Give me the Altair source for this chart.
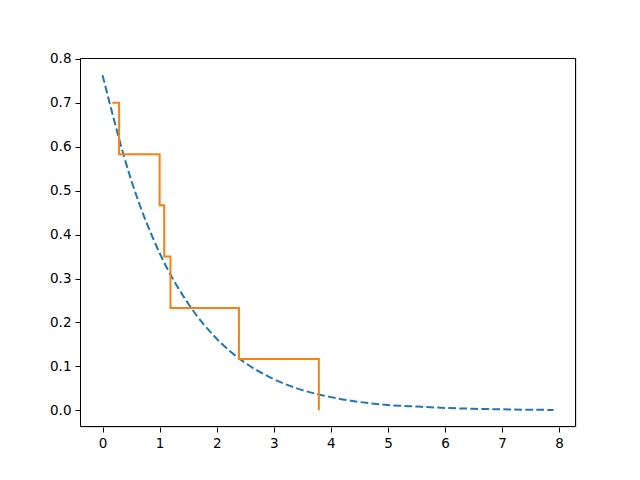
import altair as alt
import pandas as pd

# dashed reference curve
curve_x = [0.0, 0.5, 1.0, 1.5, 2.0, 2.5, 3.0, 3.5, 4.0, 4.5, 5.0, 5.5, 6.0, 6.5, 7.0, 7.5, 7.9]
curve_y = [0.763, 0.525, 0.358, 0.243, 0.163, 0.108, 0.071, 0.046, 0.030, 0.019,
           0.012, 0.0085, 0.0055, 0.0035, 0.0022, 0.0013, 0.0008]

# step function
step_x = [0.17, 0.29, 1.00, 1.08, 1.19, 2.39, 3.79]
step_y = [0.700, 0.583, 0.467, 0.350, 0.233, 0.117, 0.0]

x_ticks = [0, 1, 2, 3, 4, 5, 6, 7, 8]
y_ticks = [0.0, 0.1, 0.2, 0.3, 0.4, 0.5, 0.6, 0.7, 0.8]

W, H = 496, 369

curve = pd.DataFrame({"x": curve_x, "y": curve_y})
step = pd.DataFrame({"x": step_x, "y": step_y})

axis_common = dict(grid=False, domain=False, tickColor="black", tickSize=5, tickWidth=1,
                   labelColor="black", labelFont="DejaVu Sans", labelFontSize=13.5,
                   labelPadding=4, title=None)

xs = alt.Scale(domain=[-0.395, 8.295], nice=False, zero=False)
ys = alt.Scale(domain=[-0.038, 0.802], nice=False, zero=False)
xa = alt.Axis(values=x_ticks, format="d", **axis_common)
ya = alt.Axis(values=y_ticks, format=".1f", **axis_common)

c1 = alt.Chart(curve).mark_line(color="#1f77b4", strokeWidth=2, strokeDash=[7.7, 3.3],
                                interpolate="monotone", clip=True).encode(
    x=alt.X("x:Q", scale=xs, axis=xa),
    y=alt.Y("y:Q", scale=ys, axis=ya),
)
c2 = alt.Chart(step).mark_line(color="#ff7f0e", strokeWidth=2, interpolate="step-after").encode(
    x=alt.X("x:Q", scale=xs, axis=xa),
    y=alt.Y("y:Q", scale=ys, axis=ya),
)
frame = alt.Chart(pd.DataFrame({"a": [0]})).mark_rect(
    filled=False, stroke="black", strokeWidth=1).encode(
    x=alt.value(0.5), x2=alt.value(W - 0.5), y=alt.value(0.5), y2=alt.value(H - 0.5)
)

chart = alt.layer(c1, c2, frame).properties(
    width=W, height=H,
    autosize=alt.AutoSizeParams(type="none"),
    padding={"left": 72, "top": 50, "right": 56, "bottom": 45},
).configure_view(stroke=None).configure(background="white")

chart.save("out.html", embed_options={"renderer": "svg", "actions": False})
